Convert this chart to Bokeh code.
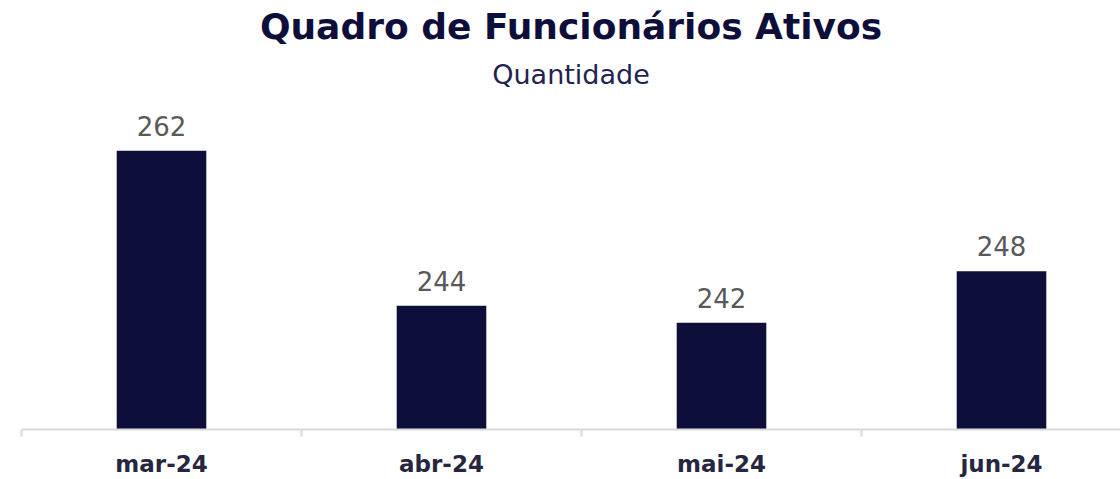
from bokeh.plotting import figure
from bokeh.models import Range1d, FixedTicker, Title, ColumnDataSource, LabelSet
from bokeh.core.properties import value
from bokeh.embed import file_html
from bokeh.resources import INLINE

months = ["mar-24", "abr-24", "mai-24", "jun-24"]
values = [262, 244, 242, 248]
BASE = 229.6

NAVY = "#0E0E3A"
xs = [i + 0.5 for i in range(len(months))]
src = ColumnDataSource(dict(x=xs, v=values, lbl=[str(v) for v in values]))

p = figure(width=1120, height=479, output_backend="svg", toolbar_location=None,
           x_range=Range1d(0, (1120 - 21) / 280), y_range=Range1d(BASE, 267.97),
           min_border_left=21, min_border_right=0, min_border_top=99, min_border_bottom=50,
           outline_line_color=None, background_fill_color="white", border_fill_color="white")
p.title.visible = False
p.add_layout(Title(text="Quantidade", align="center", text_font="DejaVu Sans",
                   text_font_style="normal", text_font_size="27px", text_color="#23234F",
                   standoff=19), "above")
p.add_layout(Title(text="Quadro de Funcionários Ativos", align="center", text_font="DejaVu Sans",
                   text_font_style="bold", text_font_size="36px", text_color=NAVY,
                   standoff=1), "above")

p.vbar(x="x", top="v", bottom=BASE, width=0.32, source=src, fill_color=NAVY, line_color=None)

p.add_layout(LabelSet(x="x", y="v", text="lbl", source=src, text_align="center",
                      text_baseline="bottom", y_offset=15, text_font=value("DejaVu Sans"),
                      text_font_size=value("26px"), text_color=value("#595959")))

p.xgrid.visible = False
p.ygrid.visible = False
p.yaxis.visible = False
ax = p.xaxis[0]
ax.ticker = FixedTicker(ticks=xs, minor_ticks=[0, 1, 2, 3, 4])
ax.major_label_overrides = {x: m for x, m in zip(xs, months)}
ax.major_tick_out = 0
ax.major_tick_in = 0
ax.minor_tick_out = 7
ax.minor_tick_in = 0
ax.minor_tick_line_color = "#D9D9D9"
ax.minor_tick_line_width = 2
ax.axis_line_color = "#D9D9D9"
ax.axis_line_width = 2
ax.major_label_standoff = 14
ax.major_label_text_font = "DejaVu Sans"
ax.major_label_text_font_style = "bold"
ax.major_label_text_font_size = "23px"
ax.major_label_text_color = "#262640"

open("out.html", "w").write(file_html(p, INLINE))
